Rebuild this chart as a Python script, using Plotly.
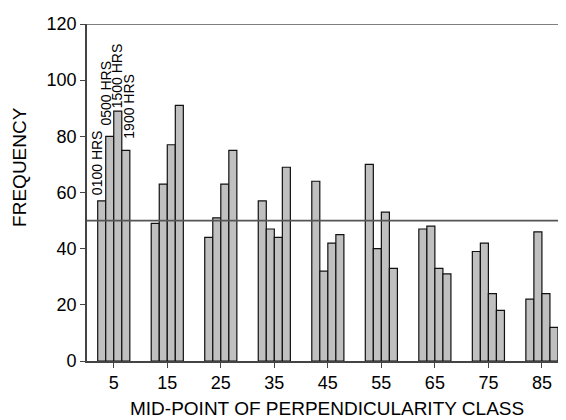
import plotly.graph_objects as go

classes = [5, 15, 25, 35, 45, 55, 65, 75, 85]
series_names = ["0100 HRS", "0500 HRS", "1500 HRS", "1900 HRS"]
h0100 = [57, 49, 44, 57, 64, 70, 47, 39, 22]
h0500 = [80, 63, 51, 47, 32, 40, 48, 42, 46]
h1500 = [89, 77, 63, 44, 42, 53, 33, 24, 24]
h1900 = [75, 91, 75, 69, 45, 33, 31, 18, 12]
y_ticks = [0, 20, 40, 60, 80, 100, 120]
reference_level = 50

series = [h0100, h0500, h1500, h1900]
FONT = "Liberation Sans, Arial, Helvetica, sans-serif"
AX = "#444444"

fig = go.Figure()
for name, vals in zip(series_names, series):
    fig.add_trace(go.Bar(
        x=classes, y=vals, name=name,
        marker=dict(color="#c0c0c0", line=dict(color="#111111", width=1.2)),
    ))

# series labels above the first class group (pixel nudges for legibility)
bargap = 0.4
step = classes[1] - classes[0]
bw = step * (1 - bargap) / len(series)
label_dx = [-4, -4, -1, 3]
label_dy = [4, 9, 1, 10]
for i, (name, vals) in enumerate(zip(series_names, series)):
    xc = classes[0] + (i - (len(series) - 1) / 2) * bw
    fig.add_annotation(
        x=xc, y=vals[0], text=name, textangle=-90, showarrow=False,
        xanchor="center", yanchor="bottom", xshift=label_dx[i], yshift=label_dy[i],
        font=dict(family=FONT, size=14, color="black"),
    )

# reference lines
for lvl in (reference_level, y_ticks[-1]):
    fig.add_shape(type="line", xref="paper", x0=0, x1=1, yref="y", y0=lvl, y1=lvl,
                  line=dict(color="#555555", width=1.6), layer="above")

fig.add_annotation(text="FREQUENCY", xref="paper", yref="paper", x=0, y=0.576,
                   xshift=-67, textangle=-90, showarrow=False,
                   xanchor="center", yanchor="middle",
                   font=dict(family=FONT, size=19, color="black"))
fig.add_annotation(text="MID-POINT OF PERPENDICULARITY CLASS", xref="paper", yref="paper",
                   x=0.5, y=0, yshift=-47, showarrow=False,
                   xanchor="center", yanchor="middle",
                   font=dict(family=FONT, size=19, color="black"))

# page body has an 8px default margin, so the figure is sized to fill the rest
fig.update_layout(
    width=558, height=412,
    margin=dict(l=79, r=0, t=16, b=59),
    paper_bgcolor="white", plot_bgcolor="white",
    barmode="group", bargap=bargap, bargroupgap=0,
    showlegend=False,
    font=dict(family=FONT, size=18, color="black"),
)
fig.update_xaxes(
    range=[0, 89.5], tickvals=classes, ticktext=[str(c) for c in classes],
    showgrid=False, zeroline=False, showline=True, linecolor=AX, linewidth=1.6,
    ticks="outside", ticklen=5, tickcolor=AX, tickwidth=1.2,
    tickfont=dict(family=FONT, size=18, color="black"),
)
fig.update_yaxes(
    range=[0, 120], tickvals=y_ticks,
    showgrid=False, zeroline=False, showline=True, linecolor=AX, linewidth=1.6,
    ticks="outside", ticklen=5, tickcolor=AX, tickwidth=1.2,
    tickfont=dict(family=FONT, size=18, color="black"),
)

fig.write_html("out.html")
